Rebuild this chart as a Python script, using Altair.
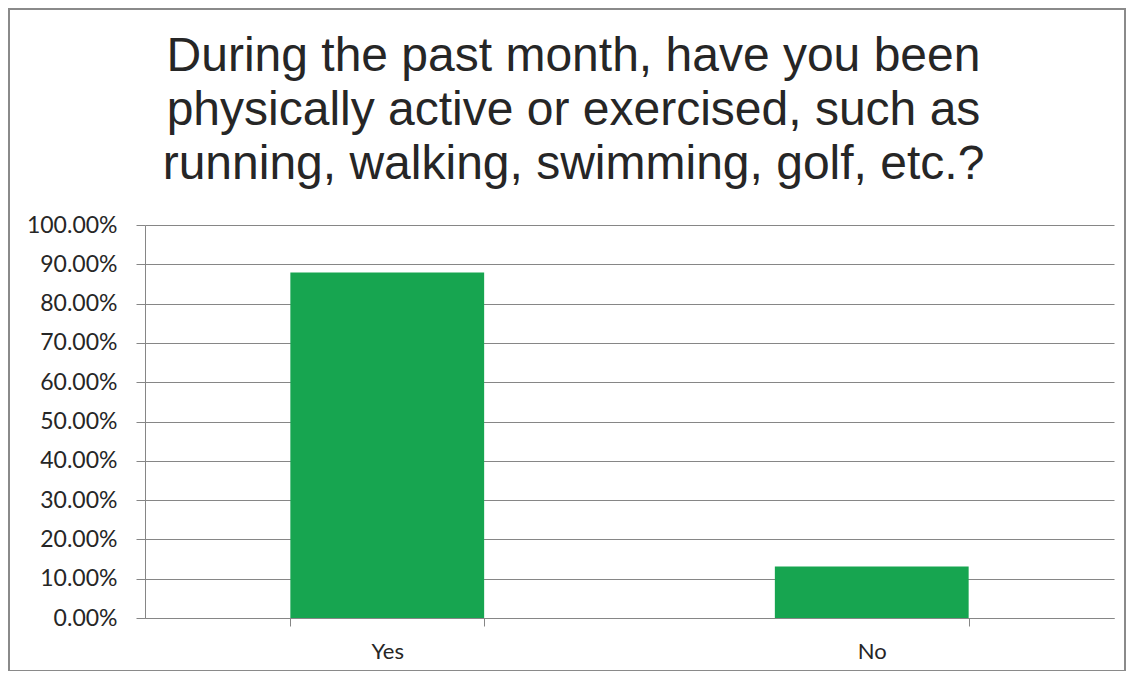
import altair as alt
import pandas as pd

answers = ["Yes", "No"]
shares = [0.879, 0.131]
y_ticks = [0.0, 0.1, 0.2, 0.3, 0.4, 0.5, 0.6, 0.7, 0.8, 0.9, 1.0]
title_lines = [
    "During the past month, have you been",
    "physically active or exercised, such as",
    "running, walking, swimming, golf, etc.?",
]

df = pd.DataFrame({"answer": answers, "share": shares})

GRAY = "#868686"
TEXT = "#262626"

bars = alt.Chart(df).mark_bar(color="#17a550").encode(
    x=alt.X(
        "answer:N",
        sort=answers,
        title=None,
        scale=alt.Scale(paddingInner=0.6, paddingOuter=0.3),
        axis=alt.Axis(
            labelAngle=0,
            tickBand="extent",
            tickSize=8,
            tickColor=GRAY,
            domainColor=GRAY,
            labelFont="Lato",
            labelFontSize=22,
            labelColor=TEXT,
            labelPadding=15,
            grid=False,
        ),
    ),
    y=alt.Y(
        "share:Q",
        title=None,
        scale=alt.Scale(domain=[0, 1]),
        axis=alt.Axis(
            values=y_ticks,
            format=".2%",
            tickSize=9,
            tickColor=GRAY,
            domainColor=GRAY,
            gridColor=GRAY,
            gridWidth=1.2,
            labelFont="Lato",
            labelFontSize=23,
            labelColor=TEXT,
            labelPadding=19,
        ),
    ),
)

frame = alt.Chart(alt.Data(values=[{}])).mark_rect(
    fillOpacity=0, stroke="#8a8a8a", strokeWidth=2
).encode(
    x=alt.value(-136), x2=alt.value(980), y=alt.value(-216), y2=alt.value(446)
)

chart = alt.layer(bars, frame).properties(
    width=969,
    height=393,
    autosize=alt.AutoSizeParams(type="none"),
    padding={"left": 137, "top": 217, "right": 12, "bottom": 53},
    title=alt.TitleParams(
        text=title_lines,
        font="Liberation Sans",
        fontSize=48,
        fontWeight="normal",
        color=TEXT,
        lineHeight=54,
        anchor="middle",
        baseline="alphabetic",
        offset=-219,
        dx=-56,
    ),
).configure_view(stroke=None)

chart.save("out.html", embed_options={"renderer": "svg", "actions": False})
